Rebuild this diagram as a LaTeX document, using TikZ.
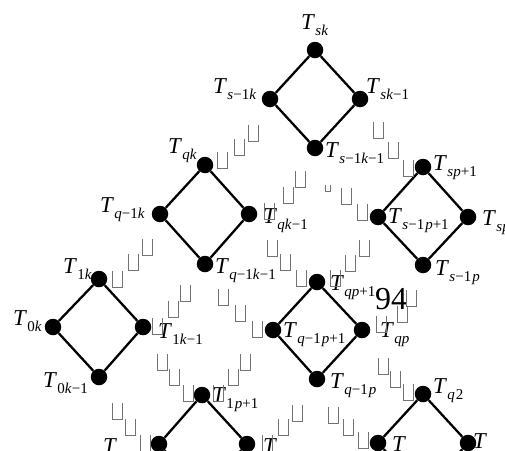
\documentclass[tikz,border=0pt]{standalone}
\usepackage{fontspec}
\setmainfont{Liberation Serif}
\newcommand\ii[1]{\textit{#1}}
\newcommand\lab[1]{\textit{T}\kern0.3pt\raisebox{-6.5pt}{\fontsize{15}{15}\selectfont #1}}
\begin{document}
\begin{tikzpicture}[x=1pt,y=-1pt,
  dot/.style={circle,fill=black,minimum size=16.5pt,inner sep=0pt},
  edge/.style={line width=2.3pt},
  lbl/.style={anchor=base west,inner sep=0pt,font=\fontsize{22.7}{24}\selectfont},
  boxline/.style={draw=black!55,line width=0.8pt},
  ubox/.pic={\draw[boxline] (-5,-8) -- (-5,8) -- (5,8) -- (5,-8);},
  sbox/.pic={\draw[boxline] (-2.5,-3.5) -- (-2.5,3.5) -- (2.5,3.5) -- (2.5,-3.5);}]
\useasboundingbox (0,0) rectangle (505,450);
% diamond sk
\node[dot] (A1) at (315,50) {};
\node[dot] (A2) at (270,99) {};
\node[dot] (A3) at (360,99) {};
\node[dot] (A4) at (315,148) {};
% diamond qk
\node[dot] (B1) at (205,165) {};
\node[dot] (B2) at (160,214) {};
\node[dot] (B3) at (249,214) {};
\node[dot] (B4) at (205,264) {};
% diamond 1k
\node[dot] (C1) at (99,279) {};
\node[dot] (C2) at (53,327) {};
\node[dot] (C3) at (143,327) {};
\node[dot] (C4) at (99,377) {};
% diamond sp
\node[dot] (D1) at (423,167) {};
\node[dot] (D2) at (378,217) {};
\node[dot] (D3) at (468,217) {};
\node[dot] (D4) at (423,265) {};
% diamond qp
\node[dot] (E1) at (317,282) {};
\node[dot] (E2) at (273,330) {};
\node[dot] (E3) at (362,330) {};
\node[dot] (E4) at (317,379) {};
% diamond 1p+1
\node[dot] (F1) at (202,395) {};
\node[dot] (F2) at (159,444) {};
\node[dot] (F3) at (247,444) {};
\node[dot] (F4) at (202,493) {};
% diamond q2
\node[dot] (G1) at (423,394) {};
\node[dot] (G2) at (378,443) {};
\node[dot] (G3) at (468,443) {};
\node[dot] (G4) at (423,492) {};
\foreach \d in {A,B,C,D,E,F,G}{
  \draw[edge] (\d1) -- (\d2) -- (\d4) -- (\d3) -- (\d1);
}
% labels
\node[lbl] (lA1) at (301,29) {\lab{\ii{sk}}};
\node[lbl] (lA2) at (213,93) {\lab{\ii{s}−1\ii{k}}};
\node[lbl] (lA3) at (366,93) {\lab{\ii{sk}−1}};
\node[lbl] (lA4) at (325,157) {\lab{\ii{s}−1\ii{k}−1}};
\node[lbl] (lB1) at (168,153) {\lab{\ii{qk}}};
\node[lbl] (lB2) at (100,212) {\lab{\ii{q}−1\ii{k}}};
\node[lbl] (lB3) at (263,223) {\lab{\ii{qk}−1}};
\node[lbl] (lB4) at (215,273) {\lab{\ii{q}−1\ii{k}−1}};
\node[lbl] (lC1) at (63,273) {\lab{1\ii{k}}};
\node[lbl] (lC2) at (13,325) {\lab{0\ii{k}}};
\node[lbl] (lC3) at (158,338) {\lab{1\ii{k}−1}};
\node[lbl] (lC4) at (43,387) {\lab{0\ii{k}−1}};
\node[lbl] (lD1) at (433,170) {\lab{\ii{sp}+1}};
\node[lbl] (lD2) at (388,223) {\lab{\ii{s}−1\kern1pt\ii{p}+1}};
\node[lbl] (lD3) at (482,225) {\lab{\ii{sp}}};
\node[lbl] (lD4) at (435,275) {\lab{\ii{s}−1\kern1pt\ii{p}}};
\node[lbl] (lE1) at (330,290) {\lab{\ii{qp}+1}};
\node[lbl,font=\fontsize{32}{34}\selectfont] (n94) at (375,309) {94};
\node[lbl] (lE2) at (283,337) {\lab{\ii{q}−1\kern1pt\ii{p}+1}};
\node[lbl] (lE3) at (380,337) {\lab{\ii{qp}}};
\node[lbl] (lE4) at (330,388) {\lab{\ii{q}−1\kern1pt\ii{p}}};
\node[lbl] (lF1) at (212,402) {\lab{1\kern1pt\ii{p}+1}};
\node[lbl] (lF2) at (103,453) {\textit{T}};
\node[lbl] (lF3) at (263,453) {\textit{T}};
\node[lbl] (lG1) at (433,393) {\lab{\ii{q}\kern1pt2}};
\node[lbl] (lG2) at (392,451) {\textit{T}};
\node[lbl] (lG3) at (473,448) {\textit{T}};
% missing-glyph boxes
\foreach \p in {(222,160),(239,147),(253,133),
                (378,130),(393,150),(408,168),
                (269,211),(288,195),(300,179),
                (346,196),(362,212),
                (272,248),(285,262),(301,278),
                (364,248),(350,263),(335,278),
                (147,247),(133,262),(117,279),
                (223,297),(240,313),(257,329),
                (185,293),(173,309),(157,326),
                (162,362),(174,377),(188,393),
                (245,362),(233,377),(218,393),
                (117,411),(130,427),(145,443),
                (297,413),(283,427),(267,443),
                (333,415),(348,427),(363,440),
                (383,366),(395,379),(408,392),
                (411,298),(402,314),(381,324)}{
  \pic at \p {ubox};
}
\pic at (328,188) {sbox};
\end{tikzpicture}
\end{document}
